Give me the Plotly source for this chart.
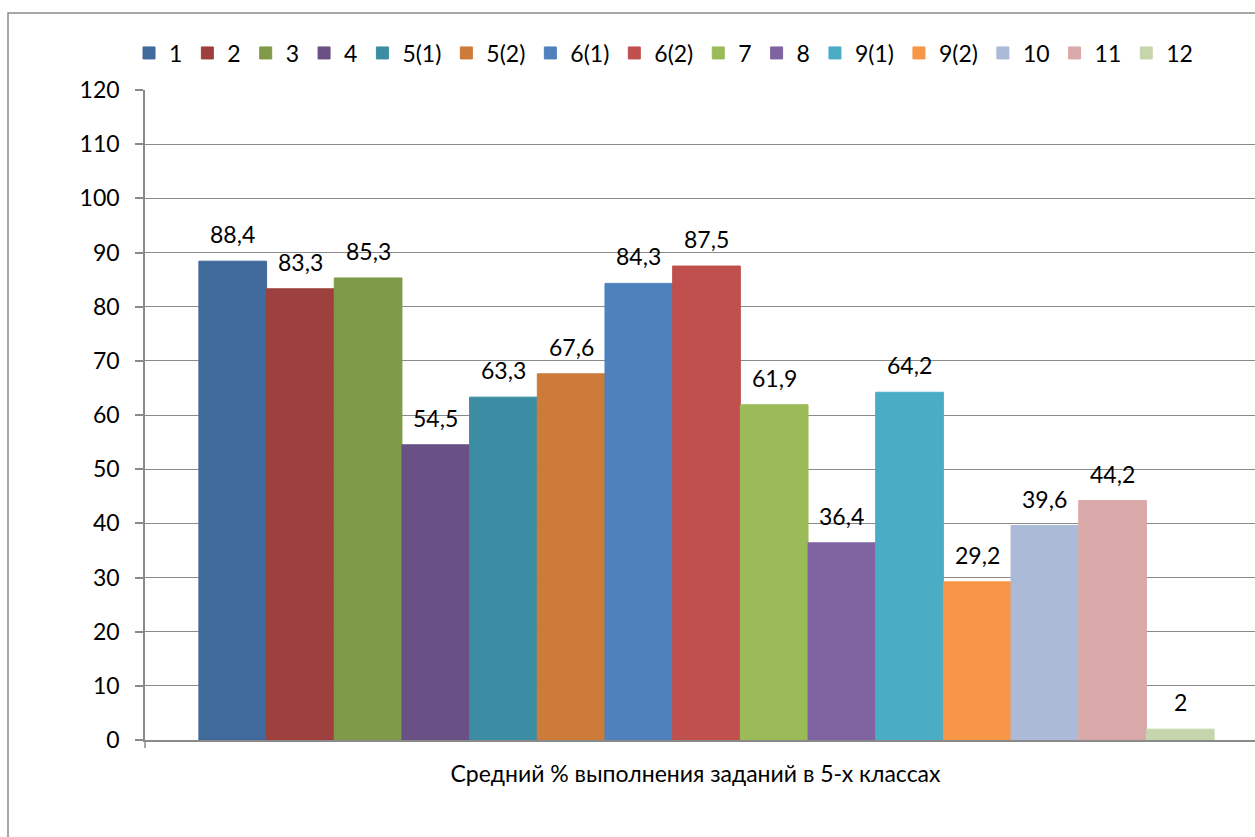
import plotly.graph_objects as go

category = "Средний % выполнения заданий в 5-х классах"
series_names = ["1", "2", "3", "4", "5(1)", "5(2)", "6(1)", "6(2)", "7", "8",
                "9(1)", "9(2)", "10", "11", "12"]
values = [88.4, 83.3, 85.3, 54.5, 63.3, 67.6, 84.3, 87.5, 61.9, 36.4,
          64.2, 29.2, 39.6, 44.2, 2]
colors = ["#40699C", "#9E413E", "#7F9A48", "#695185", "#3C8DA3", "#CC7B38",
          "#4F81BD", "#C0504D", "#9BBB59", "#8064A2", "#4BACC6", "#F79646",
          "#AABAD7", "#D9AAA9", "#C6D6AC"]
y_ticks = list(range(0, 121, 10))

FONT = "Lato"
FS = 23
GRAY = "#8a8a8a"
BARGAP = 0.096

W, H = 1255, 837
ML, MR, MT, MB = 145, 0, 90, 97
PW = W - ML - MR
PH = H - MT - MB

fig = go.Figure()
for name, v, c in zip(series_names, values, colors):
    fig.add_trace(go.Bar(
        x=[category], y=[v], name=name,
        marker=dict(color=c, line=dict(width=1, color=c)),
        hovertemplate=name + ": %{y}<extra></extra>",
    ))

# data labels above each bar (positions follow plotly's group layout)
n = len(values)
slot = (1 - BARGAP) / n
for i, v in enumerate(values):
    label = f"{v:g}".replace(".", ",")
    fig.add_annotation(
        x=-(1 - BARGAP) / 2 + (i + 0.5) * slot, y=v, xref="x", yref="y",
        text=label, showarrow=False, yanchor="bottom", yshift=11,
        font=dict(family=FONT, size=FS, color="black"),
    )

# category width in px so that bars are centred as in the reference
cat_px = 2 * (706.5 - ML)
x_end = -0.5 + PW / cat_px

fig.update_layout(
    width=W, height=H,
    margin=dict(l=ML, r=MR, t=MT, b=MB, pad=0),
    paper_bgcolor="white", plot_bgcolor="white",
    barmode="group", bargap=BARGAP, bargroupgap=0,
    font=dict(family=FONT, size=FS, color="black"),
    showlegend=True,
    legend=dict(
        orientation="h", x=-0.0144, xanchor="left", y=(MT + PH - 53) / PH,
        yanchor="middle", font=dict(family=FONT, size=FS, color="black"),
        itemwidth=30, tracegroupgap=0, bgcolor="rgba(0,0,0,0)",
    ),
    xaxis=dict(
        type="category", range=[-0.5, x_end], showgrid=False,
        showline=True, linecolor=GRAY, linewidth=1.5, ticks="",
        ticklabelstandoff=13, ticklabelshift=-11,
        tickfont=dict(family=FONT, size=FS, color="black"),
        zeroline=False,
    ),
    yaxis=dict(
        range=[0, 120], tickvals=y_ticks, showgrid=True, gridcolor=GRAY,
        gridwidth=1.2, showline=True, linecolor=GRAY, linewidth=1.5,
        ticks="outside", ticklen=8, tickcolor=GRAY, tickwidth=1.5,
        ticklabelstandoff=11, zeroline=False,
        tickfont=dict(family=FONT, size=FS, color="black"),
    ),
    shapes=[
        # chart border
        dict(type="rect", xref="paper", yref="paper",
             x0=(8 - ML) / PW, x1=1.05, y0=-0.3, y1=(MT + PH - 13) / PH,
             line=dict(color=GRAY, width=1.5), fillcolor="rgba(0,0,0,0)",
             layer="below"),
        # category-axis tick mark at the left edge
        dict(type="line", xref="paper", yref="paper", x0=0, x1=0,
             y0=0, y1=-8 / PH, line=dict(color=GRAY, width=1.5)),
    ],
)

fig.write_html("out.html", config={"displayModeBar": False},
               post_script="document.body.style.margin='0';")
